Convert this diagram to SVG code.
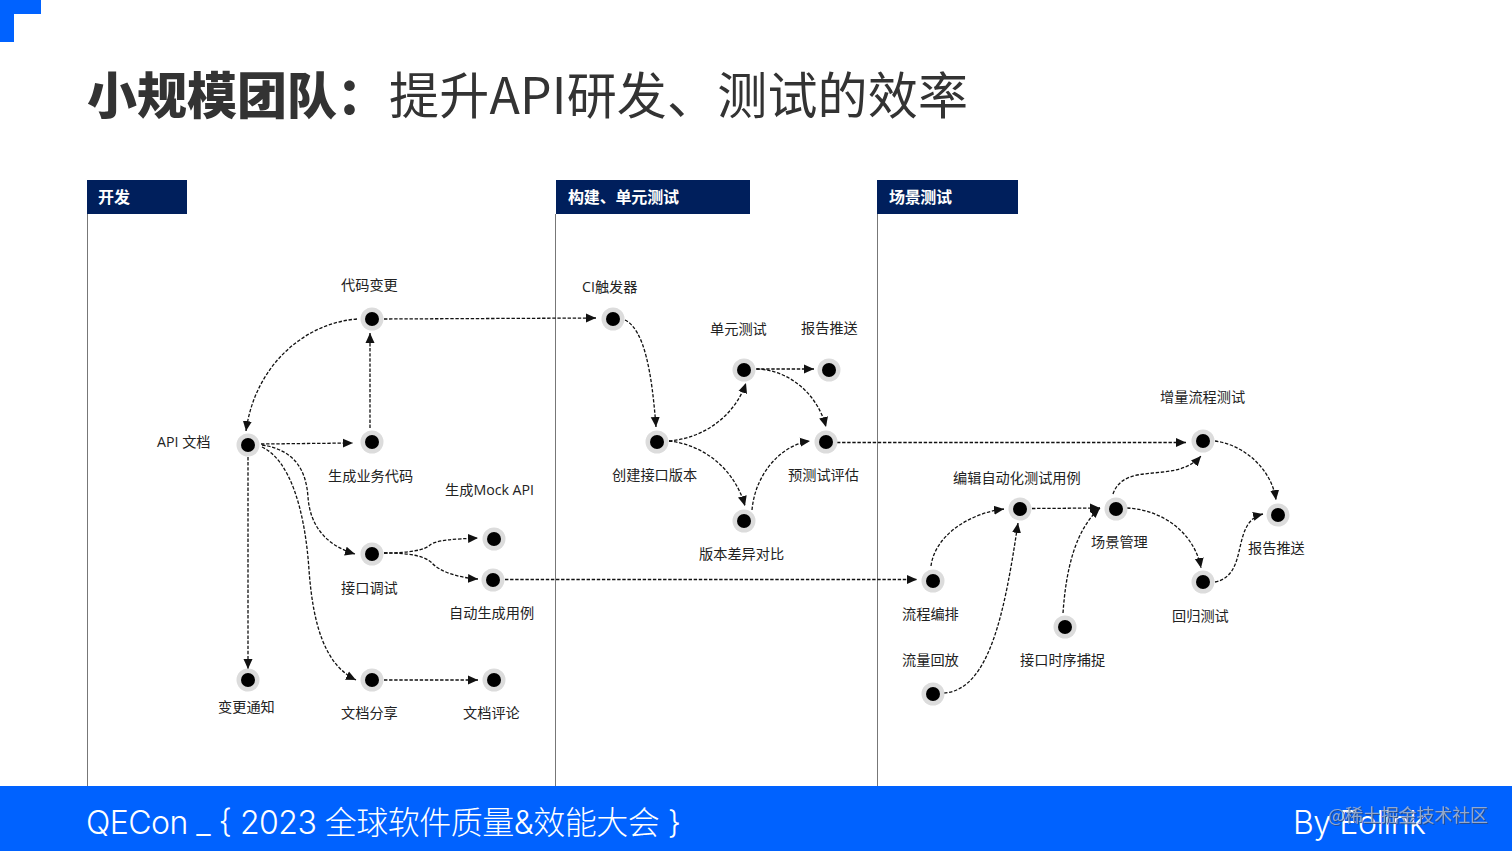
<svg xmlns="http://www.w3.org/2000/svg" width="1512" height="851" viewBox="0 0 1512 851">
<style>
text{font-family:"Open Sans","Noto Sans CJK SC",sans-serif}
.ring{fill:#dcdcdc}
.dot{fill:#000}
.lb{font-size:14.2px;fill:#222}
.hd{font-size:16px;font-weight:700;fill:#fff;font-family:"Noto Sans CJK SC",sans-serif}
.hb{fill:#001f5c}
.ln{stroke:#777;stroke-width:1;fill:none}
.c{fill:none;stroke:#111;stroke-width:1.3;stroke-dasharray:3.4 1.7;marker-end:url(#a)}
.ft{font-size:32px;fill:#fff;font-family:"Inter","Noto Sans CJK SC",sans-serif;font-weight:300}
.tt{font-size:50px;fill:#333}
</style>
<defs>
<marker id="a" markerUnits="userSpaceOnUse" markerWidth="12" markerHeight="12" refX="10" refY="6" orient="auto"><path d="M0 1.500L10 6L0 10.500Z" fill="#111"/></marker>
<g id="n"><circle class="ring" r="11.5"/><circle class="dot" r="7"/></g>
</defs>
<rect width="1512" height="851" fill="#fff"/>
<path d="M0 0H41V14H14V42H0Z" fill="#0062ff"/>
<text class="tt" x="87" y="114" font-weight="900" style="font-family:'Noto Sans CJK SC',sans-serif">小规模团队：</text>
<text class="tt" x="389" y="114" font-weight="400" textLength="579" style="font-family:'Noto Sans CJK SC',sans-serif">提升API研发、测试的效率</text>

<g id="lanes">
<path class="ln" d="M87.500 214V786M555.500 214V786M877.500 214V786"/>
<rect class="hb" x="87" y="180" width="100" height="34"/>
<rect class="hb" x="556" y="180" width="194" height="34"/>
<rect class="hb" x="877" y="180" width="141" height="34"/>
<text class="hd" x="98" y="203">开发</text>
<text class="hd" x="568" y="203" textLength="111">构建、单元测试</text>
<text class="hd" x="889" y="203" textLength="63">场景测试</text>
</g>

<g id="connectors">
<path class="c" d="M357 319C305 323 255 365 246 431"/>
<path class="c" d="M370 428V333"/>
<path class="c" d="M261 444L353 443"/>
<path class="c" d="M384 319L596 318"/>
<path class="c" d="M248 457L248 669"/>
<path class="c" d="M262 445C295 450 306 470 308 497C310 525 325 545 355 554"/>
<path class="c" d="M262 447C290 460 305 510 309 570C313 625 325 665 356 680"/>
<path class="c" d="M384 553C410 553 425 550 430 545C436 540 455 539 478 538"/>
<path class="c" d="M384 553C410 553 425 556 432 563C440 572 460 578 478 579"/>
<path class="c" d="M384 680H478"/>
<path class="c" d="M505 579.500H917"/>
<path class="c" d="M625 320C645 330 652 375 656 427"/>
<path class="c" d="M669 441C705 438 735 415 746 383"/>
<path class="c" d="M669 441C705 445 735 470 745 506"/>
<path class="c" d="M756 369L814 369"/>
<path class="c" d="M757 369C790 370 818 395 826 427"/>
<path class="c" d="M752 510C755 475 780 445 810 441"/>
<path class="c" d="M837 442.500L1186 442.500"/>
<path class="c" d="M931 566C935 535 970 513 1004 509"/>
<path class="c" d="M944 693C990 690 1005 610 1018 523"/>
<path class="c" d="M1032 508.500L1100 508"/>
<path class="c" d="M1063 613C1066 570 1075 530 1100 508"/>
<path class="c" d="M1113 494C1125 460 1175 485 1201 456"/>
<path class="c" d="M1127 508C1165 510 1195 535 1201 568"/>
<path class="c" d="M1215 441C1245 445 1272 470 1276 500"/>
<path class="c" d="M1215 582C1250 575 1230 522 1263 514"/>
</g>

<g id="n-api"><use href="#n" x="248" y="445"/><text class="lb" x="157" y="447">API 文档</text></g>
<g id="n-code"><use href="#n" x="372" y="319"/><text class="lb" x="341" y="290">代码变更</text></g>
<g id="n-gen"><use href="#n" x="372" y="442"/><text class="lb" x="328" y="481">生成业务代码</text></g>
<g id="n-debug"><use href="#n" x="372" y="554"/><text class="lb" x="341" y="593">接口调试</text></g>
<g id="n-mock"><use href="#n" x="494" y="539"/><text class="lb" x="445" y="495">生成Mock API</text></g>
<g id="n-auto"><use href="#n" x="493" y="580"/><text class="lb" x="449" y="618">自动生成用例</text></g>
<g id="n-notify"><use href="#n" x="248" y="680"/><text class="lb" x="218" y="712">变更通知</text></g>
<g id="n-share"><use href="#n" x="372" y="680"/><text class="lb" x="341" y="718">文档分享</text></g>
<g id="n-comment"><use href="#n" x="494" y="680"/><text class="lb" x="463" y="718">文档评论</text></g>
<g id="n-ci"><use href="#n" x="613" y="319"/><text class="lb" x="582" y="292">CI触发器</text></g>
<g id="n-unit"><use href="#n" x="744" y="370"/><text class="lb" x="710" y="334">单元测试</text></g>
<g id="n-report1"><use href="#n" x="829" y="370"/><text class="lb" x="801" y="333">报告推送</text></g>
<g id="n-ver"><use href="#n" x="657" y="442"/><text class="lb" x="612" y="480">创建接口版本</text></g>
<g id="n-pre"><use href="#n" x="826" y="442"/><text class="lb" x="788" y="480">预测试评估</text></g>
<g id="n-diff"><use href="#n" x="744" y="521"/><text class="lb" x="699" y="559">版本差异对比</text></g>
<g id="n-flow"><use href="#n" x="933" y="581"/><text class="lb" x="902" y="619">流程编排</text></g>
<g id="n-replay"><use href="#n" x="933" y="694"/><text class="lb" x="902" y="665">流量回放</text></g>
<g id="n-edit"><use href="#n" x="1020" y="509"/><text class="lb" x="953" y="483">编辑自动化测试用例</text></g>
<g id="n-seq"><use href="#n" x="1065" y="627"/><text class="lb" x="1020" y="665">接口时序捕捉</text></g>
<g id="n-scene"><use href="#n" x="1116" y="509"/><text class="lb" x="1091" y="547">场景管理</text></g>
<g id="n-inc"><use href="#n" x="1203" y="441"/><text class="lb" x="1160" y="402">增量流程测试</text></g>
<g id="n-reg"><use href="#n" x="1203" y="582"/><text class="lb" x="1172" y="621">回归测试</text></g>
<g id="n-report2"><use href="#n" x="1278" y="515"/><text class="lb" x="1248" y="553">报告推送</text></g>

<g id="footer">
<rect y="786" width="1512" height="65" fill="#0062ff"/>
<text class="ft" x="86" y="834" textLength="595">QECon _ { 2023 全球软件质量&amp;效能大会 }</text>
<text class="ft" x="1293" y="834" textLength="133">By Eolink</text>
<text x="1328" y="822" font-size="18" fill="#a8b6cc" fill-opacity=".85" textLength="160" style="font-family:'Noto Sans CJK SC',sans-serif;filter:drop-shadow(1px 1px 0 #2a4a80)">@稀土掘金技术社区</text>
</g>
</svg>
